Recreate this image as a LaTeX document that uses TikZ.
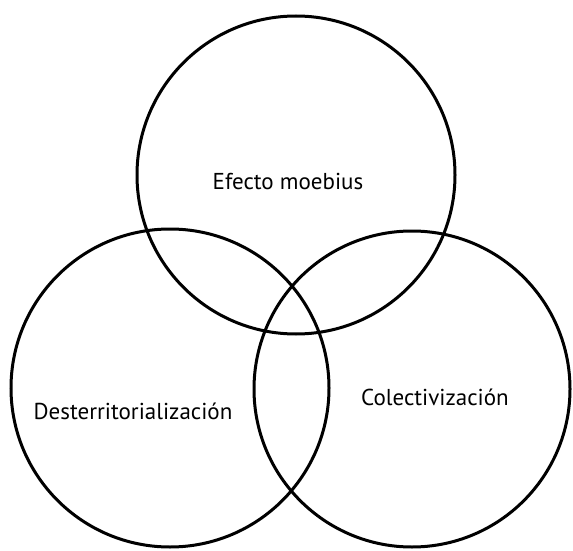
\documentclass[tikz,border=0pt]{standalone}
\usepackage{fontspec}
\setmainfont{PT Sans}
\usepackage{tikz}

\begin{document}
\begin{tikzpicture}[x=1pt,y=1pt]

%SPACING
\useasboundingbox (0,0) rectangle (573,-551);
%SPACING

\node[circle,draw=black,line width=3pt,minimum size=318pt,inner sep=0pt](v1) at (296,-175) {};
\node[circle,draw=black,line width=3pt,minimum size=318pt,inner sep=0pt](v2) at (170,-388) {};
\node[circle,draw=black,line width=3pt,minimum size=316pt,inner sep=0pt](v3) at (412,-389) {};

\node[font=\fontsize{23}{26}\selectfont](t1) at (288,-181) {Efecto moebius};
\node[font=\fontsize{23}{26}\selectfont](t2) at (133,-411) {Desterritorialización};
\node[font=\fontsize{23}{26}\selectfont](t3) at (435,-397) {Colectivización};

\end{tikzpicture}
\end{document}
